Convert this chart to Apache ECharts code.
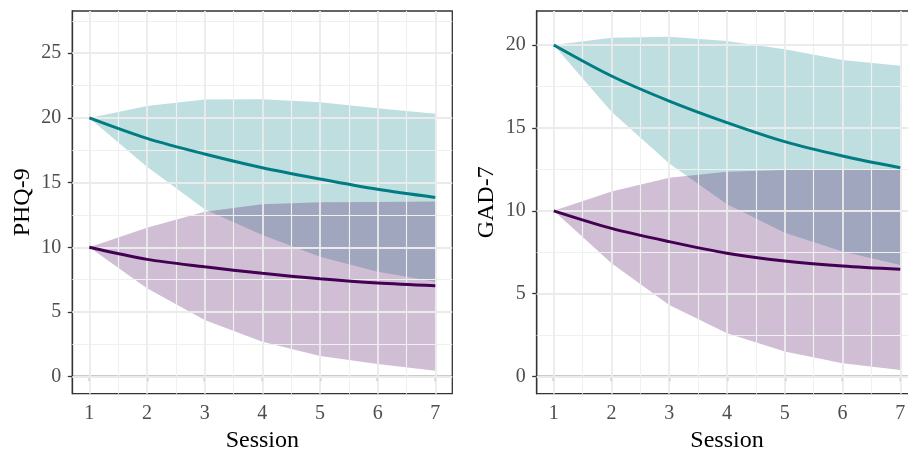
<!DOCTYPE html>
<html><head><meta charset="utf-8">
<script src="https://cdn.jsdelivr.net/npm/echarts@6/dist/echarts.min.js"></script>
<style>html,body{margin:0;padding:0;background:#fff}#c{width:908px;height:451px}</style>
</head><body><div id="c"></div>
<script>
// ---- data ----
const sessions = [1, 2, 3, 4, 5, 6, 7];

// PHQ-9 panel
const phqHighMean  = [20, 18.42, 17.21, 16.15, 15.28, 14.48, 13.85];
const phqHighUpper = [20, 20.92, 21.43, 21.45, 21.2, 20.74, 20.33];
const phqHighLower = [20, 16.23, 12.94, 10.95, 9.27, 8.11, 7.34];
const phqLowMean   = [10, 9.07, 8.5, 7.99, 7.57, 7.24, 7.03];
const phqLowUpper  = [10, 11.52, 12.75, 13.32, 13.48, 13.5, 13.55];
const phqLowLower  = [10, 6.83, 4.38, 2.71, 1.6, 0.98, 0.46];

// GAD-7 panel
const gadHighMean  = [20, 18.13, 16.62, 15.32, 14.17, 13.31, 12.6];
const gadHighUpper = [20, 20.44, 20.5, 20.24, 19.74, 19.1, 18.75];
const gadHighLower = [20, 15.98, 12.86, 10.39, 8.68, 7.54, 6.73];
const gadLowMean   = [10, 8.94, 8.14, 7.44, 6.97, 6.67, 6.47];
const gadLowUpper  = [10, 11.16, 12.0, 12.36, 12.46, 12.5, 12.54];
const gadLowLower  = [10, 6.83, 4.32, 2.61, 1.51, 0.8, 0.4];

// axis ticks / labels
const xTicks = [1, 2, 3, 4, 5, 6, 7];
const xMinor = [1.5, 2.5, 3.5, 4.5, 5.5, 6.5];
const phqTicks = [0, 5, 10, 15, 20, 25];
const phqMinor = [2.5, 7.5, 12.5, 17.5, 22.5, 27.5];
const gadTicks = [0, 5, 10, 15, 20];
const gadMinor = [2.5, 7.5, 12.5, 17.5];

// ---- styles ----
const TEAL = '#007C82', TEAL_FILL = 'rgba(0,125,133,0.25)';
const PURP = '#440154', PURP_FILL = 'rgba(68,1,84,0.25)';
const FONT = '"Liberation Serif", "Times New Roman", serif';

const pairs = (ys) => sessions.map((s, i) => [s, ys[i]]);

function gridLines(xi, major, minor, ymaj, ymin) {
  const maj = {color: '#EBEBEB', width: 1.8, type: 'solid'};
  const mnr = {color: '#F0F0F0', width: 1.1, type: 'solid'};
  const d = [];
  minor.forEach(v => d.push({xAxis: v, lineStyle: mnr}));
  ymin.forEach(v => d.push({yAxis: v, lineStyle: mnr}));
  major.forEach(v => d.push({xAxis: v, lineStyle: maj}));
  ymaj.forEach(v => d.push({yAxis: v, lineStyle: maj}));
  return {
    type: 'line', xAxisIndex: xi, yAxisIndex: xi, z: 1, silent: true,
    data: pairs([0,0,0,0,0,0,0]), symbol: 'none', lineStyle: {opacity: 0},
    markLine: {silent: true, symbol: ['none', 'none'], label: {show: false}, animation: false, data: d}
  };
}

function band(xi, up, lo, fill, z) {
  return {
    type: 'custom', xAxisIndex: xi, yAxisIndex: xi, z: z, silent: true, clip: true,
    data: sessions.map((s, i) => [s, lo[i], up[i]]),
    encode: {x: 0, y: [1, 2]},
    renderItem: function (params, api) {
      if (params.dataIndex !== 0) return null;
      const n = sessions.length;
      const top = [], bot = [];
      for (let i = 0; i < n; i++) {
        const x = api.value(0, i);
        top.push(api.coord([x, api.value(2, i)]));
        bot.push(api.coord([x, api.value(1, i)]));
      }
      return {
        type: 'polygon',
        shape: {points: top.concat(bot.reverse())},
        style: {fill: fill, stroke: null}
      };
    }
  };
}

function meanLine(xi, ys, color) {
  return {type: 'line', xAxisIndex: xi, yAxisIndex: xi, z: 5, silent: true,
    data: pairs(ys), symbol: 'none', smooth: 0.3,
    lineStyle: {color: color, width: 3}};
}

function xAxis(gi) {
  return {
    type: 'value', gridIndex: gi, min: 0.705, max: 7.295,
    name: 'Session', nameLocation: 'middle', nameGap: 34,
    nameTextStyle: {fontFamily: FONT, fontSize: 24, color: '#000'},
    axisLine: {show: true, lineStyle: {color: '#333', width: 1.3}},
    axisTick: {show: true, customValues: xTicks, length: 4.5, lineStyle: {color: '#333', width: 1.3}},
    axisLabel: {customValues: xTicks, margin: 10, fontFamily: FONT, fontSize: 20, color: '#4D4D4D'},
    splitLine: {show: false}, minorSplitLine: {show: false}
  };
}

function yAxis(gi, name, min, max, ticks) {
  return {
    type: 'value', gridIndex: gi, min: min, max: max,
    name: name, nameLocation: 'middle', nameRotate: 90, nameGap: 38,
    nameTextStyle: {fontFamily: FONT, fontSize: 24, color: '#000'},
    axisLine: {show: true, lineStyle: {color: '#333', width: 1.3}},
    axisTick: {show: true, customValues: ticks, length: 4.5, lineStyle: {color: '#333', width: 1.3}},
    axisLabel: {customValues: ticks, margin: 11, fontFamily: FONT, fontSize: 20, color: '#4D4D4D'},
    splitLine: {show: false}, minorSplitLine: {show: false}
  };
}

const gridCommon = {show: true, borderColor: '#333', borderWidth: 1.3, backgroundColor: 'transparent',
  containLabel: false, outerBoundsMode: 'none'};

const chart = echarts.init(document.getElementById('c'), null, {renderer: 'canvas'});
chart.setOption({
  animation: false,
  backgroundColor: '#fff',
  grid: [
    Object.assign({left: 72.3, top: 11, width: 380, height: 382.7}, gridCommon),
    Object.assign({left: 536.7, top: 11, width: 380.6, height: 382.7}, gridCommon)
  ],
  xAxis: [xAxis(0), xAxis(1)],
  yAxis: [yAxis(0, 'PHQ-9', -1.31, 28.26, phqTicks), yAxis(1, 'GAD-7', -1.03, 22.05, gadTicks)],
  series: [
    gridLines(0, xTicks, xMinor, phqTicks, phqMinor),
    band(0, phqHighUpper, phqHighLower, TEAL_FILL, 2),
    band(0, phqLowUpper, phqLowLower, PURP_FILL, 3),
    meanLine(0, phqHighMean, TEAL),
    meanLine(0, phqLowMean, PURP),
    gridLines(1, xTicks, xMinor, gadTicks, gadMinor),
    band(1, gadHighUpper, gadHighLower, TEAL_FILL, 2),
    band(1, gadLowUpper, gadLowLower, PURP_FILL, 3),
    meanLine(1, gadHighMean, TEAL),
    meanLine(1, gadLowMean, PURP)
  ]
});
</script></body></html>
